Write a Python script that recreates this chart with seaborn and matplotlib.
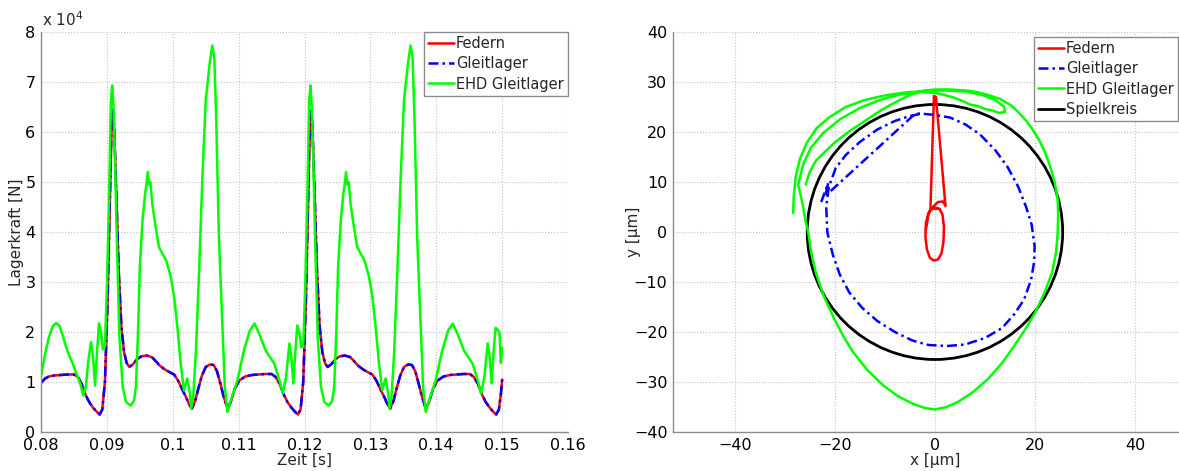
import matplotlib
matplotlib.use("Agg")
import matplotlib.pyplot as plt
import seaborn as sns
from matplotlib.lines import Line2D
from matplotlib.patches import Circle

# --- Daten: Lagerkraft ueber Zeit (Kraft in 1e4 N) ---
zeit_fg = [
    0.0800, 0.0806, 0.0812, 0.0820, 0.0830, 0.0840, 0.0850, 0.0856, 0.0862, 0.0868,
    0.0874, 0.0880, 0.0885, 0.0889, 0.0893, 0.0897, 0.0901, 0.0904, 0.0907, 0.0909,
    0.0911, 0.0914, 0.0918, 0.0922, 0.0926, 0.0930, 0.0934, 0.0940, 0.0946, 0.0952,
    0.0960, 0.0968, 0.0974, 0.0980, 0.0988, 0.0996, 0.1002, 0.1008, 0.1014, 0.1020,
    0.1025, 0.1029, 0.1034, 0.1038, 0.1044, 0.1050, 0.1056, 0.1062, 0.1067, 0.1072,
    0.1077, 0.1083, 0.1088, 0.1094, 0.1101, 0.1110, 0.1120, 0.1130, 0.1140, 0.1150,
    0.1156, 0.1162, 0.1168, 0.1174, 0.1180, 0.1185, 0.1190,
    0.1194, 0.1198, 0.1202, 0.1205, 0.1208, 0.1210, 0.1212, 0.1215, 0.1219, 0.1223,
    0.1227, 0.1231, 0.1235, 0.1241, 0.1247, 0.1253, 0.1261, 0.1269, 0.1275, 0.1281,
    0.1289, 0.1297, 0.1303, 0.1309, 0.1315, 0.1321, 0.1326, 0.1330, 0.1335, 0.1339,
    0.1345, 0.1351, 0.1357, 0.1363, 0.1368, 0.1373, 0.1378, 0.1384, 0.1389, 0.1395,
    0.1402, 0.1411, 0.1421, 0.1431, 0.1441, 0.1451, 0.1457, 0.1463, 0.1469, 0.1475,
    0.1481, 0.1486, 0.1491, 0.1495, 0.1498, 0.1500,
]
federn_kraft = [
    0.98, 1.07, 1.11, 1.13, 1.14, 1.15, 1.15, 1.10, 0.95, 0.73,
    0.58, 0.47, 0.40, 0.35, 0.45, 1.00, 2.60, 4.30, 6.00, 6.30,
    6.05, 4.90, 3.20, 2.10, 1.60, 1.38, 1.30, 1.36, 1.46, 1.51,
    1.53, 1.50, 1.42, 1.33, 1.25, 1.19, 1.15, 1.03, 0.86, 0.70,
    0.55, 0.47, 0.62, 0.83, 1.12, 1.30, 1.35, 1.34, 1.22, 0.98,
    0.72, 0.47, 0.60, 0.86, 1.03, 1.11, 1.14, 1.15, 1.16, 1.16,
    1.10, 0.97, 0.76, 0.60, 0.49, 0.41, 0.35,
    0.45, 1.00, 2.60, 4.30, 6.00, 6.30, 6.05, 4.90, 3.20, 2.10,
    1.60, 1.38, 1.30, 1.36, 1.46, 1.51, 1.53, 1.50, 1.42, 1.33,
    1.25, 1.19, 1.15, 1.03, 0.86, 0.70, 0.55, 0.47, 0.62, 0.83,
    1.12, 1.30, 1.35, 1.34, 1.22, 0.98, 0.72, 0.47, 0.60, 0.86,
    1.03, 1.11, 1.14, 1.15, 1.16, 1.16, 1.10, 0.97, 0.76, 0.60,
    0.49, 0.41, 0.35, 0.45, 0.75, 1.05,
]
gleit_kraft = [
    0.98, 1.07, 1.11, 1.13, 1.14, 1.15, 1.15, 1.10, 0.95, 0.73,
    0.58, 0.47, 0.40, 0.35, 0.45, 1.00, 2.60, 4.40, 6.20, 6.45,
    6.15, 4.90, 3.20, 2.10, 1.60, 1.38, 1.30, 1.36, 1.46, 1.51,
    1.53, 1.50, 1.42, 1.33, 1.25, 1.19, 1.15, 1.03, 0.86, 0.70,
    0.55, 0.47, 0.62, 0.83, 1.12, 1.30, 1.35, 1.34, 1.22, 0.98,
    0.72, 0.47, 0.60, 0.86, 1.03, 1.11, 1.14, 1.15, 1.16, 1.16,
    1.10, 0.97, 0.76, 0.60, 0.49, 0.41, 0.35,
    0.45, 1.00, 2.60, 4.40, 6.20, 6.45, 6.15, 4.90, 3.20, 2.10,
    1.60, 1.38, 1.30, 1.36, 1.46, 1.51, 1.53, 1.50, 1.42, 1.33,
    1.25, 1.19, 1.15, 1.03, 0.86, 0.70, 0.55, 0.47, 0.62, 0.83,
    1.12, 1.30, 1.35, 1.34, 1.22, 0.98, 0.72, 0.47, 0.60, 0.86,
    1.03, 1.11, 1.14, 1.15, 1.16, 1.16, 1.10, 0.97, 0.76, 0.60,
    0.49, 0.41, 0.35, 0.45, 0.75, 1.05,
]
zeit_ehd = [
    0.0800, 0.0806, 0.0812, 0.0818, 0.0823, 0.0828, 0.0833, 0.0838, 0.0843, 0.0848,
    0.0855, 0.0860, 0.0864, 0.0868, 0.0872, 0.0876, 0.0879, 0.0882, 0.0885, 0.0888,
    0.0891, 0.0894, 0.0897, 0.0900, 0.0903, 0.0906, 0.0908, 0.0910, 0.0912, 0.0915,
    0.0919, 0.0924, 0.0929, 0.0936, 0.0941, 0.0944, 0.0947, 0.0950, 0.0954, 0.0958,
    0.0960, 0.0962, 0.0964, 0.0966, 0.0969, 0.0974, 0.0979, 0.0985, 0.0990, 0.0997,
    0.1002, 0.1007, 0.1012, 0.1017, 0.1022, 0.1026, 0.1028, 0.1031, 0.1035, 0.1040,
    0.1045, 0.1050, 0.1056, 0.1060, 0.1063, 0.1066, 0.1070, 0.1076, 0.1079, 0.1083,
    0.1088, 0.1098, 0.1108, 0.1117, 0.1124, 0.1131, 0.1141, 0.1154, 0.1162, 0.1167,
    0.1172, 0.1177, 0.1180, 0.1183, 0.1186, 0.1189, 0.1192, 0.1195, 0.1198,
    0.1201, 0.1204, 0.1207, 0.1209, 0.1211, 0.1213, 0.1216, 0.1220, 0.1225, 0.1230,
    0.1237, 0.1242, 0.1245, 0.1248, 0.1251, 0.1255, 0.1259, 0.1261, 0.1263, 0.1265,
    0.1267, 0.1270, 0.1275, 0.1280, 0.1286, 0.1291, 0.1298, 0.1303, 0.1308, 0.1313,
    0.1318, 0.1323, 0.1327, 0.1329, 0.1332, 0.1336, 0.1341, 0.1346, 0.1351, 0.1357,
    0.1361, 0.1364, 0.1367, 0.1371, 0.1377, 0.1380, 0.1384, 0.1389, 0.1399, 0.1409,
    0.1418, 0.1425, 0.1432, 0.1442, 0.1455, 0.1463, 0.1468, 0.1473, 0.1478, 0.1481,
    0.1484, 0.1487, 0.1490, 0.1493, 0.1496, 0.1498, 0.1500,
]
ehd_kraft = [
    1.11, 1.55, 1.90, 2.12, 2.18, 2.12, 1.93, 1.70, 1.52, 1.37,
    1.13, 0.95, 0.73, 0.90, 1.45, 1.80, 1.50, 0.93, 1.60, 2.17,
    2.00, 1.65, 1.70, 2.90, 4.50, 6.60, 6.93, 6.50, 5.60, 3.90,
    1.90, 0.90, 0.60, 0.53, 0.62, 0.90, 1.90, 3.30, 4.23, 4.77,
    4.95, 5.20, 4.95, 5.00, 4.55, 4.10, 3.70, 3.55, 3.43, 3.10,
    2.70, 2.10, 1.37, 0.83, 1.07, 0.77, 0.47, 0.70, 1.57, 3.23,
    5.10, 6.63, 7.37, 7.73, 7.50, 6.23, 3.90, 1.90, 0.90, 0.40,
    0.63, 1.03, 1.63, 2.03, 2.17, 1.97, 1.63, 1.37, 1.03, 0.77,
    1.10, 1.77, 1.50, 0.97, 1.60, 2.13, 2.00, 1.70, 1.70,
    2.90, 4.50, 6.60, 6.93, 6.50, 5.60, 3.90, 1.90, 0.90, 0.60,
    0.53, 0.62, 0.90, 1.90, 3.30, 4.23, 4.77, 4.95, 5.20, 4.95,
    5.00, 4.55, 4.10, 3.70, 3.55, 3.43, 3.10, 2.70, 2.10, 1.37,
    0.83, 1.07, 0.77, 0.47, 0.70, 1.57, 3.23, 5.10, 6.63, 7.37,
    7.73, 7.50, 6.23, 3.90, 1.90, 0.90, 0.40, 0.63, 1.03, 1.63,
    2.03, 2.17, 1.97, 1.63, 1.37, 1.03, 0.77, 1.10, 1.77, 1.50,
    0.97, 1.60, 2.08, 2.05, 1.98, 1.38, 1.68,
]
zeit_ticks = [0.08, 0.09, 0.10, 0.11, 0.12, 0.13, 0.14, 0.15, 0.16]
zeit_labels = ["0.08", "0.09", "0.1", "0.11", "0.12", "0.13", "0.14", "0.15", "0.16"]
kraft_ticks = [0, 1, 2, 3, 4, 5, 6, 7, 8]

# --- Daten: Wellenverlagerung (x, y in um) ---
federn_x = [-1.8, -1.3, -0.9, -0.2, 0.2, 2.1, 1.6, 0.6, -0.4, 0.9, 1.5, 1.8, 1.7, 1.3,
            0.6, -0.2, -1.0, -1.6, -1.9, -1.8, -1.3, -0.6, 0.3, 0.9]
federn_y = [0.5, 3.5, 4.6, 27.2, 27.0, 5.2, 6.1, 6.0, 5.0, 4.6, 3.5, 1.0, -2.0, -4.3,
            -5.5, -5.7, -5.2, -3.5, -1.0, 1.8, 3.8, 4.6, 4.7, 4.6]
gleit_x = [-22.7, -21.3, -21.9, -4.0, -3.0, 0.0, 3.0, 6.1, 9.0, 12.1, 14.5, 16.6, 18.2,
           19.3, 19.9, 19.8, 19.2, 17.8, 15.8, 13.4, 10.0, 6.0, 2.5, -1.3, -4.5, -8.0,
           -11.5, -14.5, -17.1, -19.0, -20.4, -21.5, -21.7, -21.2, -19.8, -17.8, -15.0,
           -11.5, -8.0, -5.0, -3.0]
gleit_y = [6.0, 9.8, 7.2, 23.6, 23.7, 23.4, 22.9, 21.5, 19.5, 16.3, 13.0, 9.1, 5.0,
           1.5, -2.8, -6.0, -9.5, -13.5, -16.5, -19.2, -21.2, -22.5, -22.8, -22.6, -21.7,
           -20.0, -17.8, -15.2, -12.1, -8.5, -4.5, 0.0, 5.0, 9.0, 12.8, 15.4, 18.0, 20.5,
           22.2, 23.2, 23.6]
ehd_x = [-28.3, -28.2, -27.8, -27.0, -25.6, -23.6, -21.0, -17.8, -14.0, -10.0, -6.0,
         -2.0, 2.0, 6.0, 9.5, 12.2, 13.8, 14.0, 12.8, 11.5, 10.0, 8.5, 7.0, 5.5, 4.0,
         2.0, 0.0, -3.0, -7.0, -11.0, -15.0, -19.0, -22.3, -24.8, -26.3, -27.3, -26.5,
         -25.8, -25.3, -24.8, -23.8, -22.2, -20.1, -18.2, -16.3, -13.5, -10.3, -7.3,
         -4.3, -2.0, 0.0, 2.3, 4.6, 7.6, 10.6, 13.4, 15.9, 18.2, 20.0, 21.8, 23.4, 24.2,
         24.5, 24.6, 24.5, 23.9, 23.0, 22.0, 20.8, 19.5, 18.1, 16.6, 15.1, 13.0, 10.6,
         8.3, 6.1, 3.0, 0.0, -2.5, -5.0, -8.0, -11.0, -14.0, -17.0, -20.0, -22.2, -23.8,
         -25.0, -25.8]
ehd_y = [3.8, 7.0, 11.0, 14.5, 17.8, 20.8, 23.0, 25.0, 26.4, 27.3, 27.9, 28.2, 28.3,
         28.1, 27.4, 26.3, 25.0, 24.0, 23.8, 24.3, 24.6, 25.2, 25.5, 26.2, 26.8, 27.4,
         27.8, 28.0, 27.5, 26.4, 24.8, 22.5, 19.8, 16.8, 13.5, 9.5, 6.0, 2.0, 0.0, -3.5,
         -8.1, -12.8, -17.4, -21.0, -24.1, -27.6, -30.7, -32.9, -34.4, -35.2, -35.5,
         -35.0, -34.0, -32.0, -29.4, -26.2, -22.7, -19.2, -16.1, -12.3, -8.1, -4.0, -0.2,
         3.5, 6.5, 10.0, 13.1, 15.9, 18.4, 20.5, 22.4, 24.0, 25.4, 26.6, 27.4, 28.0,
         28.3, 28.5, 28.5, 28.2, 27.4, 25.9, 24.2, 22.2, 20.2, 17.9, 15.8, 14.2, 12.0, 9.5]
spiel_radius = 25.5
weg_ticks_x = [-40, -20, 0, 20, 40]
weg_ticks_y = [-40, -30, -20, -10, 0, 10, 20, 30, 40]

farben = {"Federn": "#ff0000", "Gleitlager": "#0000ff", "EHD Gleitlager": "#00ff00",
          "Spielkreis": "#000000"}
strich_gleit = (0, (4, 1.6, 1, 1.6))


def style_axes(ax):
    for side in ["top", "right"]:
        ax.spines[side].set_visible(False)
    for side in ["left", "bottom"]:
        ax.spines[side].set_color("#8c8c8c")
        ax.spines[side].set_linewidth(1.0)
    ax.grid(True, linestyle=":", color="#c4c4c4", linewidth=0.8)
    ax.tick_params(direction="in", length=4, color="#8c8c8c", labelsize=11.5,
                   labelcolor="black", pad=4)


sns.set_style("white")
plt.rcParams["font.family"] = ["DejaVu Sans"]

fig = plt.figure(figsize=(11.79, 4.71), dpi=100)
ax1 = fig.add_axes([0.0348, 0.0828, 0.447, 0.8493])
ax2 = fig.add_axes([0.5708, 0.0828, 0.4444, 0.8493])

# linker Plot: Lagerkraft
sns.lineplot(x=zeit_fg, y=federn_kraft, ax=ax1, color=farben["Federn"], linewidth=1.8,
             sort=False, estimator=None)
sns.lineplot(x=zeit_fg, y=gleit_kraft, ax=ax1, color=farben["Gleitlager"], linewidth=1.8,
             sort=False, estimator=None, linestyle=strich_gleit)
sns.lineplot(x=zeit_ehd, y=ehd_kraft, ax=ax1, color=farben["EHD Gleitlager"], linewidth=1.8,
             sort=False, estimator=None)
ax1.set_xlim(0.08, 0.16)
ax1.set_ylim(0, 8)
ax1.set_xticks(zeit_ticks)
ax1.set_xticklabels(zeit_labels)
ax1.set_yticks(kraft_ticks)
style_axes(ax1)
ax1.set_xlabel("Zeit [s]", fontsize=11, labelpad=0)
ax1.set_ylabel("Lagerkraft [N]", fontsize=11)
ax1.yaxis.set_label_coords(-0.032, 0.5)
ax1.text(0.002, 1.008, r"x 10$^4$", transform=ax1.transAxes, fontsize=11,
         ha="left", va="bottom")

h1 = [Line2D([], [], color=farben["Federn"], lw=1.8),
      Line2D([], [], color=farben["Gleitlager"], lw=1.8, linestyle=strich_gleit),
      Line2D([], [], color=farben["EHD Gleitlager"], lw=1.8)]
leg1 = ax1.legend(h1, ["Federn", "Gleitlager", "EHD Gleitlager"], loc="upper right",
                  bbox_to_anchor=(1.0, 1.0), borderaxespad=0, fontsize=10.5,
                  frameon=True, fancybox=False, framealpha=1, handlelength=1.8,
                  handletextpad=0.1, labelspacing=0.35, borderpad=0.3)
leg1.get_frame().set_edgecolor("#8c8c8c")
leg1.get_frame().set_linewidth(1.0)

# rechter Plot: Verlagerungsbahn
sns.lineplot(x=federn_x, y=federn_y, ax=ax2, color=farben["Federn"], linewidth=1.8,
             sort=False, estimator=None)
sns.lineplot(x=gleit_x, y=gleit_y, ax=ax2, color=farben["Gleitlager"], linewidth=1.8,
             sort=False, estimator=None, linestyle=strich_gleit)
sns.lineplot(x=ehd_x, y=ehd_y, ax=ax2, color=farben["EHD Gleitlager"], linewidth=1.8,
             sort=False, estimator=None)
ax2.add_patch(Circle((0, 0), spiel_radius, fill=False, edgecolor=farben["Spielkreis"],
                     linewidth=2.0))
ax2.set_xlim(-52.3, 52.3)
ax2.set_ylim(-40, 40)
ax2.set_xticks(weg_ticks_x)
ax2.set_yticks(weg_ticks_y)
style_axes(ax2)
ax2.set_xlabel("x [µm]", fontsize=11, labelpad=0)
ax2.set_ylabel("y [µm]", fontsize=11)
ax2.yaxis.set_label_coords(-0.061, 0.5)

h2 = h1 + [Line2D([], [], color=farben["Spielkreis"], lw=2.0)]
leg2 = ax2.legend(h2, ["Federn", "Gleitlager", "EHD Gleitlager", "Spielkreis"],
                  loc="upper right", bbox_to_anchor=(1178 / 1179, 1 - 37 / 471),
                  bbox_transform=fig.transFigure, borderaxespad=0, fontsize=10.5,
                  frameon=True, fancybox=False, framealpha=1, handlelength=1.8,
                  handletextpad=0.1, labelspacing=0.35, borderpad=0.3)
leg2.get_frame().set_edgecolor("#8c8c8c")
leg2.get_frame().set_linewidth(1.0)

fig.savefig("out.png", dpi=100)
